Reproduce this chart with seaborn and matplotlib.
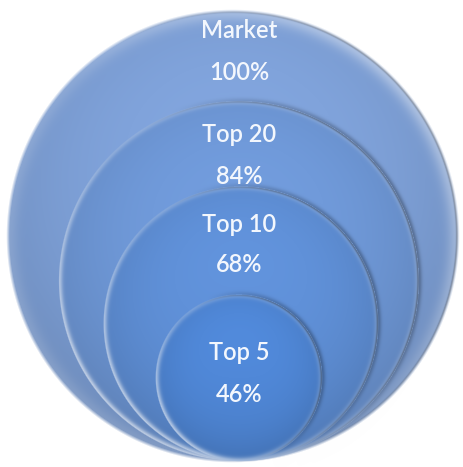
import numpy as np
import matplotlib
matplotlib.use("Agg")
import matplotlib.pyplot as plt
import seaborn as sns

# Market concentration: share held by the top-N players
segments = ["Market", "Top 20", "Top 10", "Top 5"]
shares = [100, 84, 68, 46]
share_labels = ["100%", "84%", "68%", "46%"]

sns.set_theme(style="white")
plt.rcParams["font.family"] = ["Lato", "DejaVu Sans"]

W, H = 463, 467
DPI = 100

# Layout (pixel coordinates, y downwards)
R_MAX = 225.0          # radius of the 100% circle
BASE_Y = 461.0         # circles share a common bottom point
CX = [233.0, 239.0, 241.0, 239.0]
NAME_Y = [31, 135, 224, 352]
VALUE_Y = [72, 176, 265, 394]
SOFT = [3.5, 1.2, 1.2, 1.2]

palette = sns.blend_palette(["#80a3db", "#5088d8"], n_colors=len(segments))


def radius(v):
    # power scale keeps the small nested circles readable
    return R_MAX * (v / 100.0) ** 1.28


yy, xx = np.mgrid[0:H, 0:W].astype(float) + 0.5
canvas = np.ones((H, W, 3))

for i, (v, col) in enumerate(zip(shares, palette)):
    r = radius(v)
    cx, cy = CX[i], BASE_Y - r
    dx, dy = xx - cx, yy - cy
    dist = np.hypot(dx, dy)
    inside = r - dist                      # >0 inside the circle
    ang_x, ang_y = dx / (dist + 1e-9), dy / (dist + 1e-9)

    # towards lower-left (lit) and right (shaded)
    s_lit = (-ang_x + ang_y) / np.sqrt(2)
    s_shade = (ang_x - 0.4 * ang_y) / np.hypot(1, 0.4)

    # soft cast shadow just outside the right side of inner circles
    if i > 0:
        sh = np.where(inside < 0, np.exp(-(inside / 3.0) ** 2), 0) * np.clip(s_shade, 0, 1) * 0.28
        canvas *= (1 - sh)[..., None]

    base = np.array(col)
    t = np.clip(dy / r, -1, 1)
    dn = np.clip(dist / r, 0, 1)
    shade = 1 + 0.06 * (-t) - 0.10 * dn ** 3
    fill = base[None, None, :] * shade[..., None]

    # light rim inside the edge, strongest on the lower left
    rim = np.exp(-(np.clip(inside, 0, None) / 3.5) ** 2) * (0.25 + 0.35 * np.clip(s_lit, 0, 1))
    if i == 0:
        rim = np.exp(-(np.clip(inside, 0, None) / 10.0) ** 2) * (0.15 + 0.25 * np.clip(-s_lit, 0, 1))
    fill = fill + (1 - fill) * rim[..., None]

    # thin dark line on the shaded side
    dl = np.exp(-((inside - 0.8) / 1.2) ** 2) * np.clip(s_shade + 0.2, 0, 1) * 0.30
    fill = fill * (1 - dl)[..., None]
    fill = np.clip(fill, 0, 1)

    alpha = np.clip(inside / SOFT[i] + 0.5, 0, 1)[..., None]
    canvas = canvas * (1 - alpha) + fill * alpha

fig = plt.figure(figsize=(W / DPI, H / DPI), dpi=DPI)
ax = fig.add_axes([0, 0, 1, 1])
ax.imshow(canvas, extent=(0, W, H, 0), interpolation="bilinear")
ax.set_xlim(0, W)
ax.set_ylim(H, 0)
ax.axis("off")

for i, (name, lab) in enumerate(zip(segments, share_labels)):
    tx = 239.5
    ax.text(tx, NAME_Y[i], name, ha="center", va="center", color="#f3f7fd",
            fontsize=17, fontweight="semibold")
    ax.text(tx, VALUE_Y[i], lab, ha="center", va="center", color="#f3f7fd",
            fontsize=17, fontweight="semibold")

fig.savefig("out.png", dpi=DPI)
